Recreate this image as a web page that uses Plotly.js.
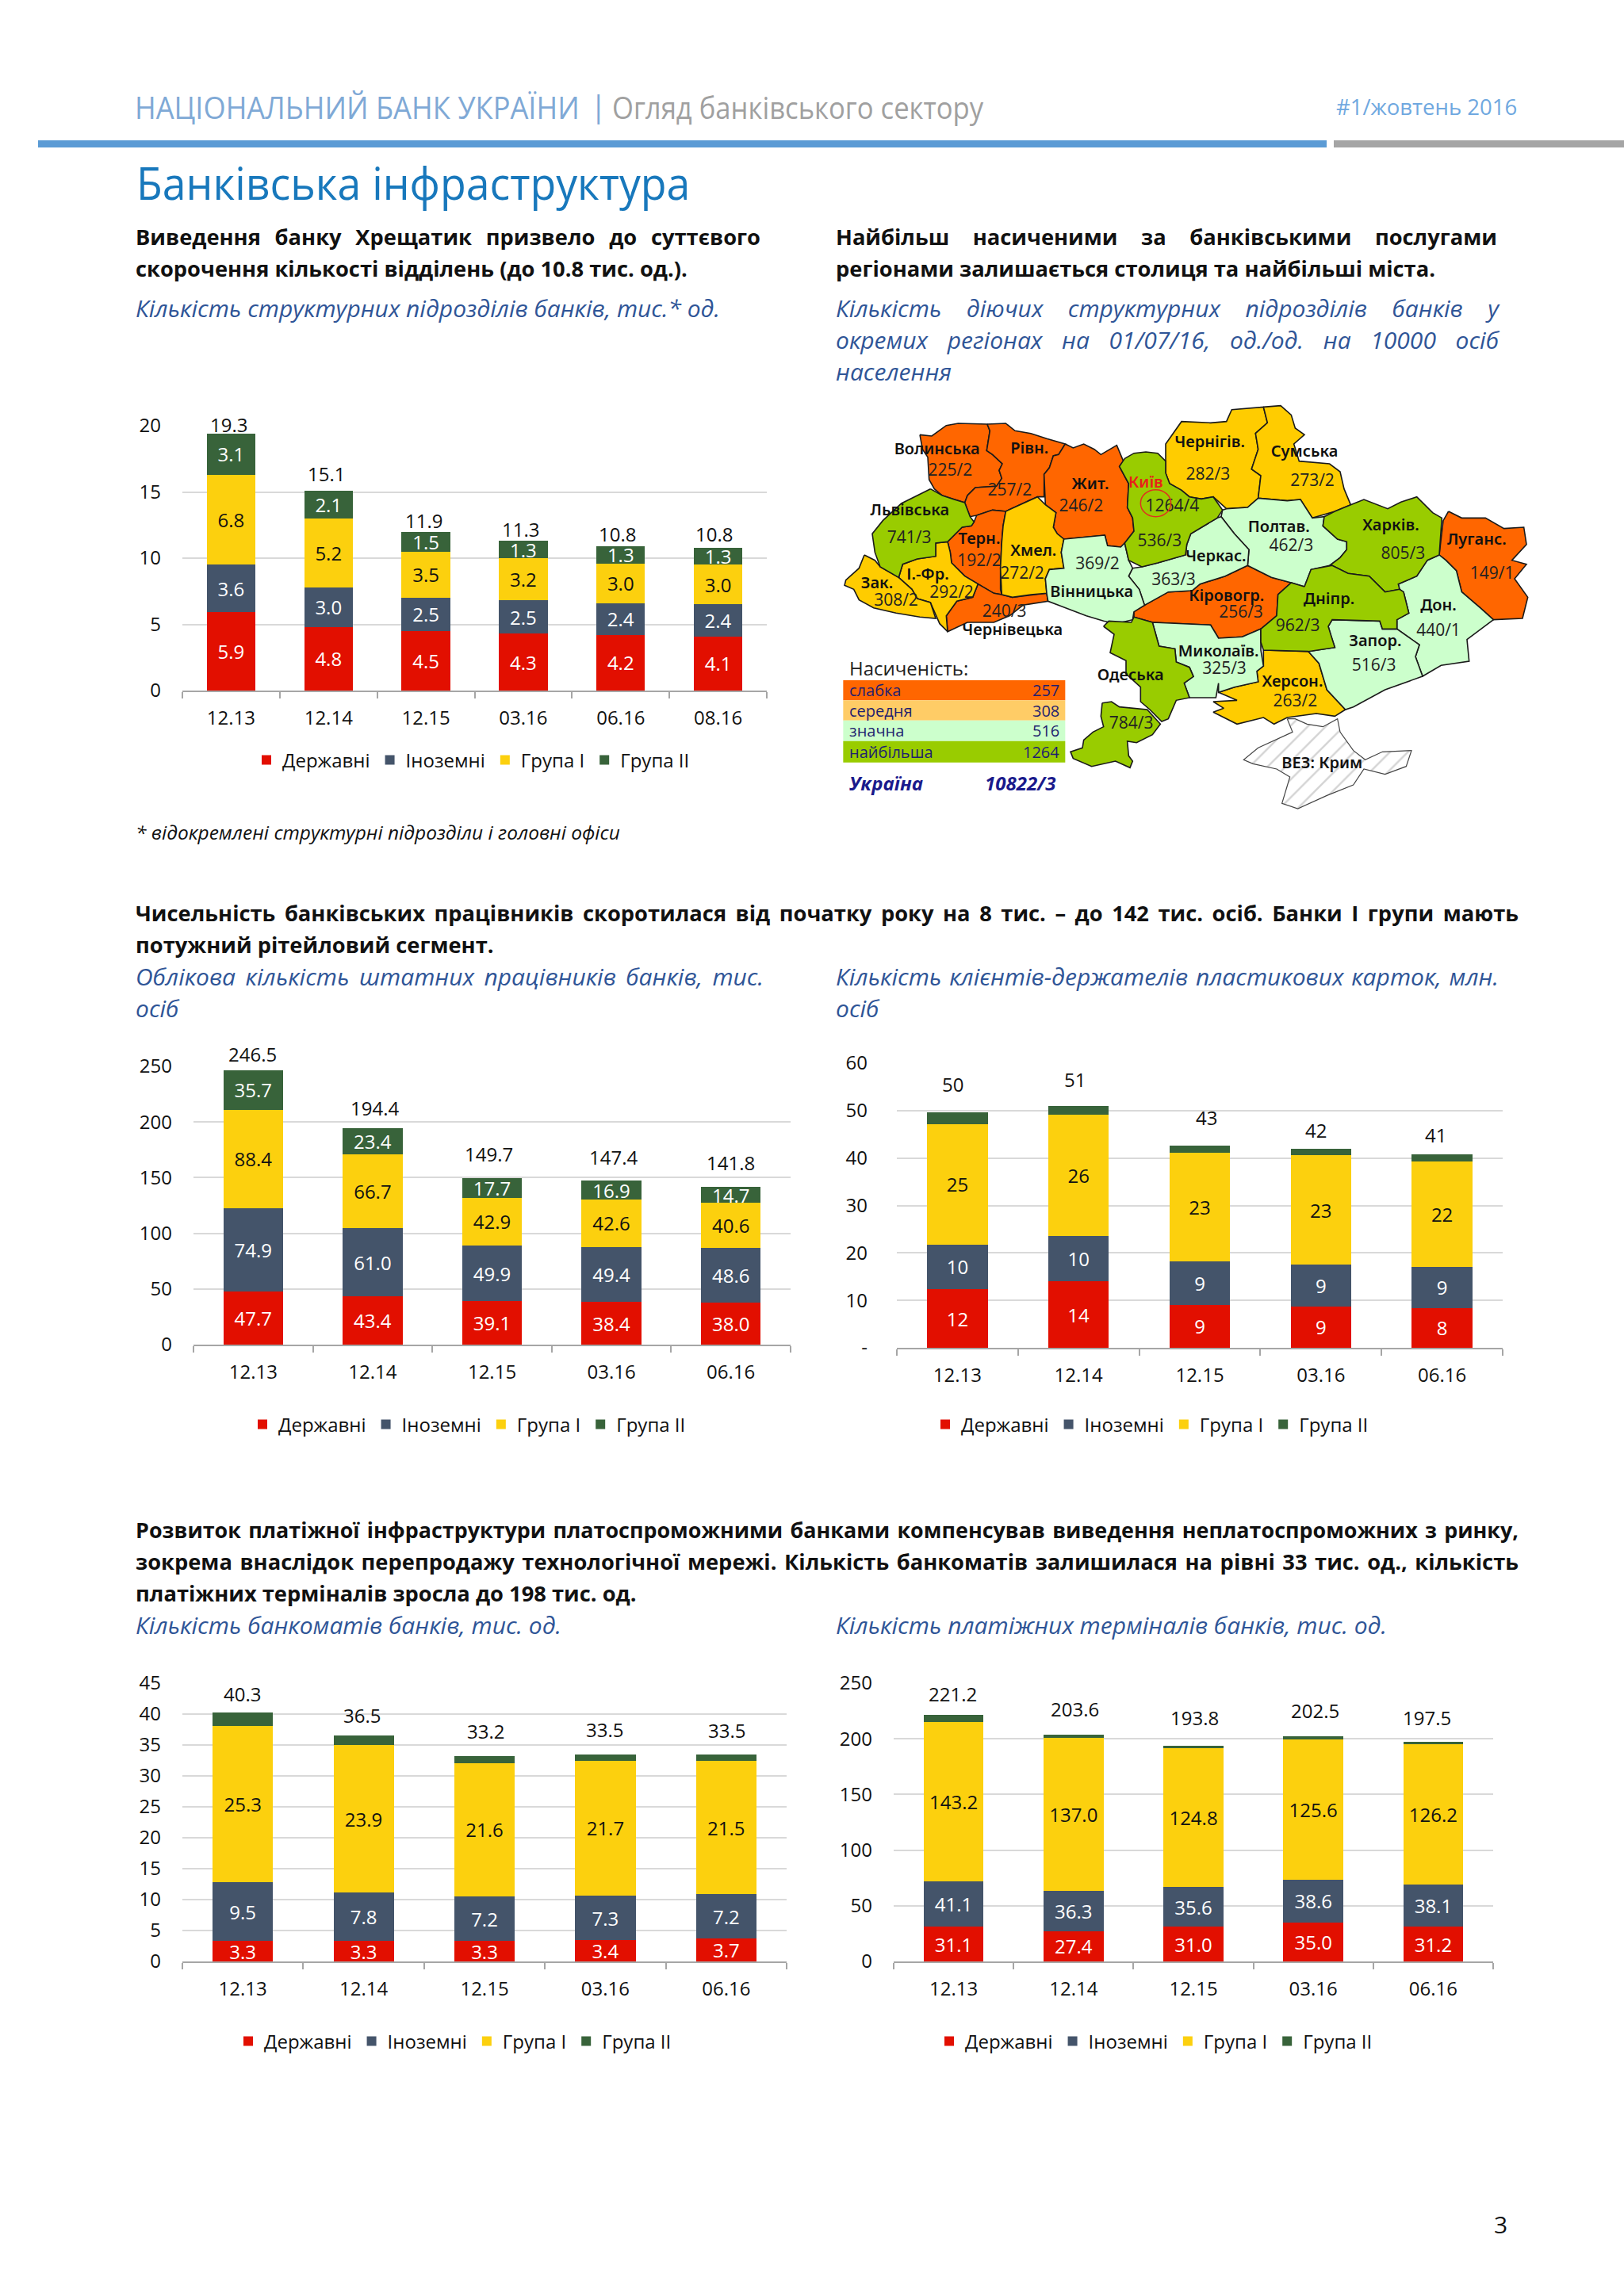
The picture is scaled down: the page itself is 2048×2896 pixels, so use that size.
<!DOCTYPE html>
<html lang="uk"><head><meta charset="utf-8">
<script src="https://cdn.plot.ly/plotly-3.0.1.min.js"></script>
<style>
html,body{margin:0;padding:0;background:#fff}
#page{position:relative;width:2048px;height:2896px;overflow:hidden;font-family:"Open Sans",sans-serif}
#chart{position:absolute;left:0;top:0;width:2048px;height:2896px}
.t{position:absolute;white-space:nowrap;height:40px;line-height:40px}
.j{text-align:justify;text-align-last:justify;white-space:normal}
.b{font-weight:700;color:#111;font-size:27.3px}
.i{font-style:italic;color:#2F5597;font-size:30px}
</style></head><body>
<div id="page"><div id="chart"></div></div>
<script>
/* ---------- categories ---------- */
const dates6 = ['12.13','12.14','12.15','03.16','06.16','08.16'];
const dates5 = ['12.13','12.14','12.15','03.16','06.16'];
const seriesNames = ['Державні','Іноземні','Група I','Група II'];

/* ---------- chart 1: structural units ---------- */
const unitsState = [5.9,4.8,4.5,4.3,4.2,4.1];
const unitsForeign = [3.6,3.0,2.5,2.5,2.4,2.4];
const unitsGroup1 = [6.8,5.2,3.5,3.2,3.0,3.0];
const unitsGroup2 = [3.1,2.1,1.5,1.3,1.3,1.3];
const unitsTotal = [19.3,15.1,11.9,11.3,10.8,10.8];
const unitsTicks = [0,5,10,15,20];

/* ---------- chart 2: staff ---------- */
const staffState = [47.7,43.4,39.1,38.4,38.0];
const staffForeign = [74.9,61.0,49.9,49.4,48.6];
const staffGroup1 = [88.4,66.7,42.9,42.6,40.6];
const staffGroup2 = [35.7,23.4,17.7,16.9,14.7];
const staffTotal = [246.5,194.4,149.7,147.4,141.8];
const staffTicks = [0,50,100,150,200,250];

/* ---------- chart 3: card holders ---------- */
const cardsState = [12.3,14.0,9.1,8.7,8.4];
const cardsForeign = [9.5,9.5,9.1,8.8,8.7];
const cardsGroup1 = [25.3,25.7,22.9,23.1,22.2];
const cardsGroup2 = [2.5,1.8,1.6,1.4,1.4];
const cardsTotal = [50,51,43,42,41];
const cardsTicks = [0,10,20,30,40,50,60];
const cardsTickText = ['-','10','20','30','40','50','60'];

/* ---------- chart 4: ATMs ---------- */
const atmState = [3.3,3.3,3.3,3.4,3.7];
const atmForeign = [9.5,7.8,7.2,7.3,7.2];
const atmGroup1 = [25.3,23.9,21.6,21.7,21.5];
const atmGroup2 = [2.2,1.5,1.1,1.1,1.1];
const atmTotal = [40.3,36.5,33.2,33.5,33.5];
const atmTicks = [0,5,10,15,20,25,30,35,40,45];

/* ---------- chart 5: payment terminals ---------- */
const posState = [31.1,27.4,31.0,35.0,31.2];
const posForeign = [41.1,36.3,35.6,38.6,38.1];
const posGroup1 = [143.2,137.0,124.8,125.6,126.2];
const posGroup2 = [5.8,2.9,2.4,3.3,2.0];
const posTotal = [221.2,203.6,193.8,202.5,197.5];
const posTicks = [0,50,100,150,200,250];

/* ---------- map: region outlines in map units ---------- */
const volyn = [[300,115],[345,120],[400,80],[445,72],[555,75],[565,100],[553,175],[575,190],[612,225],[600,250],[610,280],[590,310],[510,315],[480,345],[470,372],[430,360],[385,345],[355,320],[335,285],[330,200],[310,170]];
const rivne = [[555,75],[625,72],[660,100],[720,110],[780,130],[850,150],[825,190],[805,195],[790,240],[770,265],[770,350],[745,350],[710,365],[625,405],[575,400],[515,420],[490,425],[470,372],[480,345],[510,315],[590,310],[610,280],[600,250],[612,225],[575,190],[553,175],[565,100]];
const zhytomyr = [[850,150],[880,165],[920,150],[960,170],[985,190],[1045,155],[1070,215],[1055,235],[1090,300],[1085,390],[1105,430],[1110,480],[1075,525],[1060,540],[1010,535],[1000,495],[845,510],[820,490],[805,465],[815,410],[775,380],[770,265],[790,240],[805,195],[825,190]];
const lviv = [[340,320],[385,345],[430,360],[470,372],[490,425],[505,445],[495,460],[460,465],[405,520],[360,525],[360,575],[290,585],[235,605],[220,655],[150,615],[130,560],[120,490],[160,440],[230,375],[290,345]];
const ternopil = [[515,420],[575,400],[625,405],[615,460],[610,520],[605,620],[605,700],[610,720],[580,715],[520,680],[470,650],[420,600],[415,560],[405,520],[460,465],[495,460],[505,445]];
const khmelnytskyi = [[625,405],[710,365],[745,350],[775,380],[815,410],[805,465],[820,490],[845,510],[835,560],[845,620],[790,625],[775,660],[780,715],[720,720],[650,730],[610,720],[605,620],[610,520],[615,460]];
const frankivsk = [[235,605],[290,585],[360,575],[360,525],[405,520],[415,560],[420,600],[470,650],[520,680],[500,730],[440,745],[400,800],[405,860],[375,830],[340,750],[290,735],[270,700],[220,655]];
const zakarpattia = [[90,570],[130,590],[150,615],[220,655],[270,700],[290,735],[340,750],[360,810],[300,805],[210,790],[125,770],[70,740],[50,700],[15,685],[20,665],[70,620]];
const chernivtsi = [[520,680],[580,715],[610,720],[650,730],[780,715],[785,745],[690,760],[640,800],[580,825],[480,825],[405,860],[400,800],[440,745],[500,730]];
const vinnytsia = [[845,510],[1000,495],[1010,535],[1060,540],[1075,525],[1090,590],[1105,620],[1090,650],[1130,700],[1150,760],[1110,785],[1105,815],[1040,830],[995,820],[930,800],[850,770],[785,745],[780,715],[775,660],[790,625],[845,620],[835,560]];
const kyiv = [[1075,205],[1110,185],[1155,180],[1200,185],[1230,215],[1230,260],[1245,300],[1290,325],[1320,350],[1365,358],[1410,350],[1445,400],[1425,430],[1325,490],[1310,530],[1305,570],[1200,600],[1140,615],[1090,590],[1075,525],[1110,480],[1105,430],[1085,390],[1090,300],[1055,235]];
const chernihiv = [[1230,215],[1230,150],[1290,65],[1400,70],[1460,65],[1480,20],[1600,10],[1615,70],[1570,110],[1580,170],[1555,245],[1590,270],[1580,355],[1540,390],[1460,395],[1410,350],[1365,358],[1320,350],[1290,325],[1245,300],[1230,260]];
const sumy = [[1600,10],[1665,5],[1705,40],[1720,90],[1755,115],[1715,150],[1735,215],[1850,225],[1890,255],[1905,320],[1930,380],[1870,405],[1785,430],[1740,360],[1690,365],[1580,355],[1590,270],[1555,245],[1580,170],[1570,110],[1615,70]];
const poltava = [[1445,400],[1460,395],[1540,390],[1580,355],[1690,365],[1740,360],[1785,430],[1830,425],[1825,460],[1880,510],[1915,520],[1915,550],[1890,580],[1850,610],[1780,625],[1755,690],[1705,675],[1630,655],[1540,610],[1545,550],[1490,490],[1440,425]];
const kharkiv = [[1830,425],[1870,405],[1930,380],[1980,360],[2070,395],[2120,370],[2180,350],[2240,410],[2275,430],[2265,570],[2220,590],[2180,650],[2110,680],[2115,700],[2060,710],[2000,650],[1920,640],[1860,610],[1850,610],[1890,580],[1915,550],[1915,520],[1880,510],[1825,460]];
const luhansk = [[2300,405],[2350,430],[2440,430],[2510,470],[2585,465],[2595,530],[2540,590],[2595,605],[2550,660],[2600,730],[2580,810],[2470,815],[2420,770],[2350,710],[2330,630],[2290,590],[2265,570],[2280,440]];
const donetsk = [[2265,570],[2290,590],[2330,630],[2350,710],[2420,770],[2470,815],[2410,860],[2370,890],[2378,972],[2272,988],[2202,1029],[2175,955],[2190,910],[2105,850],[2105,815],[2150,790],[2130,710],[2115,700],[2110,680],[2180,650],[2220,590]];
const dnipro = [[1755,690],[1780,625],[1860,610],[1920,640],[2000,650],[2060,710],[2115,700],[2130,710],[2150,790],[2105,815],[2105,850],[2050,850],[2040,820],[1860,815],[1845,840],[1855,875],[1870,920],[1770,935],[1600,930],[1590,900],[1590,850],[1650,800],[1655,720],[1705,675]];
const zaporizhzhia = [[1860,815],[2040,820],[2050,850],[2105,850],[2190,910],[2175,955],[2202,1029],[2060,1080],[1940,1145],[1910,1155],[1840,1080],[1810,980],[1770,935],[1870,920],[1855,875],[1845,840]];
const kherson = [[1600,930],[1770,935],[1810,980],[1840,1080],[1910,1155],[1870,1180],[1800,1170],[1690,1185],[1640,1210],[1600,1185],[1500,1210],[1410,1165],[1450,1150],[1410,1125],[1500,1120],[1430,1090],[1490,1070],[1580,1050],[1575,1010],[1600,990]];
const mykolaiv = [[1180,825],[1400,835],[1430,885],[1520,880],[1590,850],[1590,930],[1600,990],[1575,1010],[1580,1050],[1490,1070],[1430,1090],[1430,1055],[1420,1110],[1320,1110],[1300,1055],[1335,1030],[1320,995],[1270,975],[1265,925],[1205,915]];
const kirovohrad = [[1110,785],[1150,760],[1240,710],[1330,705],[1360,680],[1455,650],[1540,610],[1630,655],[1705,675],[1655,720],[1650,800],[1590,850],[1520,880],[1430,885],[1400,835],[1180,825],[1110,805]];
const cherkasy = [[1090,650],[1105,620],[1140,615],[1200,600],[1305,570],[1310,530],[1325,490],[1425,430],[1440,425],[1490,490],[1545,550],[1540,610],[1455,650],[1360,680],[1330,705],[1240,710],[1150,760],[1130,700]];
const odesaNorth = [[995,840],[1015,820],[1100,825],[1110,805],[1180,825],[1205,915],[1265,925],[1270,975],[1320,995],[1335,1030],[1300,1055],[1320,1110],[1270,1120],[1240,1190],[1215,1200],[1170,1155],[1135,1125],[1135,1070],[1080,1020],[1080,970],[1020,940],[1035,870]];
const odesaSouth = [[990,1130],[1025,1125],[1055,1145],[1160,1155],[1210,1210],[1180,1250],[1120,1280],[1085,1275],[1090,1330],[1105,1350],[1095,1375],[1040,1350],[950,1370],[880,1340],[870,1315],[915,1300],[920,1270],[955,1240],[995,1220],[985,1180]];
const crimea = [[1690,1190],[1720,1190],[1765,1210],[1825,1220],[1880,1190],[1890,1240],[1940,1310],[1985,1345],[2050,1315],[2160,1310],[2140,1370],[2060,1400],[1980,1380],[1940,1440],[1840,1480],[1730,1530],[1670,1510],[1700,1410],[1650,1380],[1560,1360],[1525,1345],[1580,1300],[1710,1240]];

const weakRegions = [volyn,rivne,zhytomyr,luhansk,kirovohrad,ternopil,chernivtsi];
const mediumRegions = [chernihiv,sumy,kherson,khmelnytskyi,frankivsk,zakarpattia];
const highRegions = [poltava,donetsk,zaporizhzhia,mykolaiv,cherkasy,vinnytsia];
const topRegions = [kyiv,kharkiv,dnipro,odesaNorth,odesaSouth,lviv];

/* map labels */
const mapNames = ['Волинська','Рівн.','Жит.','Чернігів.','Сумська','Львівська','Терн.','Хмел.','Зак.','І.-Фр.','Чернівецька','Вінницька','Черкас.','Полтав.','Харків.','Луганс.','Кіровогр.','Дніпр.','Дон.','Запор.','Миколаїв.','Одеська','Херсон.','ВЕЗ: Крим'];
const mapNameX = [365,715,945,1397,1755,262,525,730,138,330,650,950,1420,1658,2082,2407,1460,1848,2262,2023,1430,1097,1710,1822];
const mapNameY = [175,170,305,148,182,405,512,557,680,648,858,715,580,467,463,517,730,742,765,900,940,1028,1053,1362];
const mapValues = ['225/2','257/2','246/2','282/3','273/2','1264/4','536/3','741/3','192/2','272/2','308/2','292/2','240/3','369/2','363/3','462/3','805/3','149/1','256/3','962/3','440/1','516/3','325/3','263/2','784/3'];
const mapValueX = [415,640,910,1390,1785,1255,1207,260,525,687,210,420,620,972,1260,1705,2128,2465,1515,1730,2262,2018,1452,1720,1100];
const mapValueY = [255,328,390,268,292,390,520,510,597,645,745,715,787,607,667,540,568,643,790,843,860,992,1003,1128,1210];

const saturationLabels = ['слабка','середня','значна','найбільша'];
const saturationValues = ['257','308','516','1264'];
const saturationColors = ['#FF6600','#FFCC66','#CCFFCC','#99CC00'];

/* ---------- page text ---------- */
const headerBank = 'НАЦІОНАЛЬНИЙ БАНК УКРАЇНИ';
const headerReview = 'Огляд банківського сектору';
const headerIssue = '#1/жовтень 2016';
const pageTitle = 'Банківська інфраструктура';

/* ---------- styles ---------- */
const colors = ['#E20F00','#44546A','#FCD00E','#38633A'];
const textColors = ['#fff','#fff','#111','#fff'];
const W = 2048, H = 2896;

const panels = [
 {x:dates6,s:[unitsState,unitsForeign,unitsGroup1,unitsGroup2],total:unitsTotal,ticks:unitsTicks,range:[0,20],box:[230,967,537,871],dig:1,lbl:true,so:26,
  dy:[13,21,16,15,17,17],dx:[-3,-3,-3,-3,-4,-5],leg:[330,959]},
 {x:dates5,s:[staffState,staffForeign,staffGroup1,staffGroup2],total:staffTotal,ticks:staffTicks,range:[0,250],box:[244,997,1345,1696],dig:1,lbl:true,so:26,
  dy:[20,26,30,30,30],dx:[-1,3,-4,2,0],leg:[325,1797]},
 {x:dates5,s:[cardsState,cardsForeign,cardsGroup1,cardsGroup2],total:cardsTotal,ticks:cardsTicks,tickText:cardsTickText,range:[0,60],box:[1131,1895,1341,1700],dig:0,lbl:false,so:36,
  dy:[33,33,33,23,23],dx:[-6,-5,8,-6,-8],leg:[1186,1797]},
 {x:dates5,s:[atmState,atmForeign,atmGroup1,atmGroup2],total:atmTotal,ticks:atmTicks,range:[0,45],box:[230,992,2123,2474],dig:1,lbl:false,so:26,
  dy:[23,26,32,31,30],dx:[-1,-2,1,-1,1],leg:[307,2575]},
 {x:dates5,s:[posState,posForeign,posGroup1,posGroup2],total:posTotal,ticks:posTicks,range:[0,250],box:[1127,1883,2123,2474],dig:1,lbl:false,so:26,
  dy:[27,33,35,32,30],dx:[-1,2,1,2,-8],leg:[1191,2575]}
];

const FONT = '"Open Sans",sans-serif';
const traces = [], annotations = [], shapes = [];
const layout = {width:W,height:H,margin:{l:0,r:0,t:0,b:0,pad:0},paper_bgcolor:'rgba(0,0,0,0)',plot_bgcolor:'rgba(0,0,0,0)',
  barmode:'stack',bargap:0.5,font:{family:FONT,size:24,color:'#111'},showlegend:true};

panels.forEach((p,i)=>{
  const n = i+1, xk = n===1?'xaxis':'xaxis'+n, yk = n===1?'yaxis':'yaxis'+n;
  const xr = n===1?'x':'x'+n, yr = n===1?'y':'y'+n, lg = n===1?'legend':'legend'+n;
  const [x0,x1,y0,y1] = p.box;
  layout[xk] = {domain:[x0/W,x1/W],anchor:yr,type:'category',fixedrange:true,showgrid:false,zeroline:false,showline:true,linecolor:'#A6A6A6',linewidth:2,
    ticks:'outside',ticklen:8,tickwidth:2,tickcolor:'#A6A6A6',tickson:'boundaries',tickfont:{size:24,color:'#111',family:FONT},ticklabelstandoff:12,range:[-0.5,p.x.length-0.5]};
  layout[yk] = {domain:[1-y1/H,1-y0/H],anchor:xr,range:p.range,fixedrange:true,showgrid:true,gridcolor:'#D9D9D9',gridwidth:2,zeroline:false,showline:false,
    tickmode:'array',tickvals:p.ticks,ticktext:p.tickText||p.ticks.map(String),tickfont:{size:24,color:'#111',family:FONT},ticks:'',ticklabelstandoff:p.so};
  layout[lg] = {orientation:'h',x:(p.leg[0]-14)/W,y:1-p.leg[1]/H,xanchor:'left',yanchor:'middle',bgcolor:'rgba(0,0,0,0)',font:{size:24,color:'#111',family:FONT},itemclick:false,itemdoubleclick:false,traceorder:'normal'};
  p.s.forEach((vals,k)=>{
    const labelled = k<3 || p.lbl;
    traces.push({type:'bar',name:seriesNames[k],x:p.x,y:vals,xaxis:xr,yaxis:yr,legend:lg,marker:{color:colors[k],line:{width:0}},
      text:labelled?vals.map(v=>v.toFixed(p.dig)):undefined,textposition:labelled?'inside':'none',insidetextanchor:'middle',textangle:0,constraintext:'none',
      insidetextfont:{size:24,color:textColors[k],family:FONT},hoverinfo:'x+y+name'});
  });
  p.total.forEach((v,j)=>annotations.push({xref:xr,yref:yr,x:j,y:v,text:v.toFixed(p.dig),showarrow:false,
    xanchor:'center',yanchor:'middle',xshift:p.dx[j],yshift:p.dy[j],font:{size:24,color:'#111',family:FONT}}));
});

/* ---------- map subplot ---------- */
const mapX='x6', mapY='y6';
layout.xaxis6={domain:[1060/W,1980/W],range:[0,2760],anchor:mapY,visible:false,fixedrange:true};
layout.yaxis6={domain:[1-1040/H,1-510/H],range:[1590,0],anchor:mapX,visible:false,fixedrange:true};
function addRegions(list,color){
  list.forEach(r=>{
    const c=r.concat([r[0]]);
    traces.push({type:'scatter',mode:'lines',x:c.map(q=>q[0]),y:c.map(q=>q[1]),xaxis:mapX,yaxis:mapY,fill:'toself',fillcolor:color,
      line:{color:'#1a1a1a',width:1.6},showlegend:false,hoverinfo:'skip'});
  });
}
addRegions(weakRegions,'#FF6600');
addRegions(mediumRegions,'#FFCC00');
addRegions(highRegions,'#CCFFCC');
addRegions(topRegions,'#99CC00');
const cr=crimea.concat([crimea[0]]);
traces.push({type:'scatter',mode:'lines',x:cr.map(q=>q[0]),y:cr.map(q=>q[1]),xaxis:mapX,yaxis:mapY,fill:'toself',fillcolor:'#fff',
  fillpattern:{shape:'/',fgcolor:'#D4D4D4',bgcolor:'#FFFFFF',size:16,solidity:0.15},line:{color:'#444',width:1.2},showlegend:false,hoverinfo:'skip'});
traces.push({type:'scatter',mode:'text',x:mapNameX,y:mapNameY,text:mapNames,xaxis:mapX,yaxis:mapY,showlegend:false,hoverinfo:'skip',cliponaxis:false,
  textposition:'middle center',textfont:{family:'"Noto Sans",sans-serif',size:20,color:'#111',weight:600}});
traces.push({type:'scatter',mode:'text',x:mapValueX,y:mapValueY,text:mapValues,xaxis:mapX,yaxis:mapY,showlegend:false,hoverinfo:'skip',cliponaxis:false,
  textposition:'middle center',textfont:{family:FONT,size:21,color:'#222'}});

/* capital marker */
shapes.push({type:'circle',xref:mapX,yref:mapY,x0:1135,x1:1250,y0:323,y1:425,line:{color:'#E03020',width:1.5},fillcolor:'rgba(0,0,0,0)'});
annotations.push({xref:mapX,yref:mapY,x:1155,y:292,text:'Київ',showarrow:false,font:{family:'"Noto Sans",sans-serif',size:20,color:'#E8201A',weight:600}});

/* saturation key */
const keyEdges=[1044,1120,1196,1274,1355];
saturationColors.forEach((c,i)=>{
  shapes.push({type:'rect',xref:mapX,yref:mapY,x0:10,x1:850,y0:keyEdges[i],y1:keyEdges[i+1],fillcolor:c,line:{width:0},layer:'below'});
  const ym=(keyEdges[i]+keyEdges[i+1])/2;
  annotations.push({xref:mapX,yref:mapY,x:28,y:ym,xanchor:'left',text:saturationLabels[i],showarrow:false,font:{family:FONT,size:20,color:'#1F1F6F'}});
  annotations.push({xref:mapX,yref:mapY,x:834,y:ym,xanchor:'right',text:saturationValues[i],showarrow:false,font:{family:FONT,size:20,color:'#1F1F6F'}});
});
annotations.push({xref:mapX,yref:mapY,x:28,y:996,xanchor:'left',text:'Насиченість:',showarrow:false,font:{family:FONT,size:24,color:'#222'}});
annotations.push({xref:mapX,yref:mapY,x:28,y:1432,xanchor:'left',text:'<b><i>Україна</i></b>',showarrow:false,font:{family:FONT,size:24,color:'#1A1A8C'}});
annotations.push({xref:mapX,yref:mapY,x:820,y:1432,xanchor:'right',text:'<b><i>10822/3</i></b>',showarrow:false,font:{family:FONT,size:24,color:'#1A1A8C'}});

/* page rules */
shapes.push({type:'rect',xref:'paper',yref:'paper',x0:48/W,x1:1673/W,y0:1-186/H,y1:1-177/H,fillcolor:'#5B9BD5',line:{width:0}});
shapes.push({type:'rect',xref:'paper',yref:'paper',x0:1682/W,x1:1,y0:1-186/H,y1:1-177/H,fillcolor:'#A5A5A5',line:{width:0}});

layout.annotations=annotations; layout.shapes=shapes;
Plotly.newPlot('chart',traces,layout,{displayModeBar:false,responsive:false}).then(()=>{
  document.querySelectorAll('path.legendbar').forEach(p=>p.setAttribute('d','M7.5,7.5H-7.5V-7.5H7.5Z'));
});

/* ---------- page text as real text ---------- */
const page=document.getElementById('page');
function put(text,x,y,cls,w,css){
  const d=document.createElement('div');
  d.className='t '+cls; d.textContent=text;
  d.style.left=x+'px'; d.style.top=(y-20)+'px';
  if(w) d.style.width=w+'px';
  if(css) d.style.cssText+=css;
  page.appendChild(d);
}
put(headerBank,170,135,'',0,'font-size:39px;color:#7FA9D6;transform:scaleX(.929);transform-origin:left');
put('|',744,133,'',0,'font-size:39px;color:#7FA9D6');
put(headerReview,772,135,'',0,'font-size:39px;color:#A0A0A0;transform:scaleX(.888);transform-origin:left');
put(headerIssue,1685,135,'',0,'font-size:27.5px;color:#6FA8E0');
put(pageTitle,172,230,'',0,'font-size:56px;color:#1878BC;transform:scaleX(.957);transform-origin:left');

put('Виведення банку Хрещатик призвело до суттєвого',171,299,'b j',788);
put('скорочення кількості відділень (до 10.8 тис. од.).',171,339,'b');
put('Кількість структурних підрозділів банків, тис.* од.',171,389,'i');
put('Найбільш насиченими за банківськими послугами',1054,299,'b j',834);
put('регіонами залишається столиця та найбільші міста.',1054,339,'b');
put('Кількість діючих структурних підрозділів банків у',1054,389,'i j',836);
put('окремих регіонах на 01/07/16, од./од. на 10000 осіб',1054,429,'i j',836);
put('населення',1054,469,'i');
put('* відокремлені структурні підрозділи і головні офіси',171,1050,'',0,'font-style:italic;font-size:24.5px;color:#111');

put('Чисельність банківських працівників скоротилася від початку року на 8 тис. –  до 142 тис. осіб. Банки I групи мають',171,1152,'b j',1744);
put('потужний рітейловий сегмент.',171,1192,'b');
put('Облікова кількість штатних працівників банків, тис.',171,1232,'i j',792);
put('осіб',171,1272,'i');
put('Кількість клієнтів-держателів пластикових карток, млн.',1054,1232,'i j',836);
put('осіб',1054,1272,'i');

put('Розвиток платіжної інфраструктури платоспроможними банками компенсував виведення неплатоспроможних з ринку,',171,1930,'b j',1744,'font-size:26.9px');
put('зокрема внаслідок перепродажу технологічної мережі. Кількість банкоматів залишилася на рівні 33 тис. од., кількість',171,1970,'b j',1744);
put('платіжних терміналів зросла до 198 тис. од.',171,2010,'b');
put('Кількість банкоматів банків, тис. од.',171,2050,'i');
put('Кількість платіжних терміналів банків, тис. од.',1054,2050,'i');
put('3',1884,2806,'',0,'font-size:30px;color:#111');
</script></body></html>
